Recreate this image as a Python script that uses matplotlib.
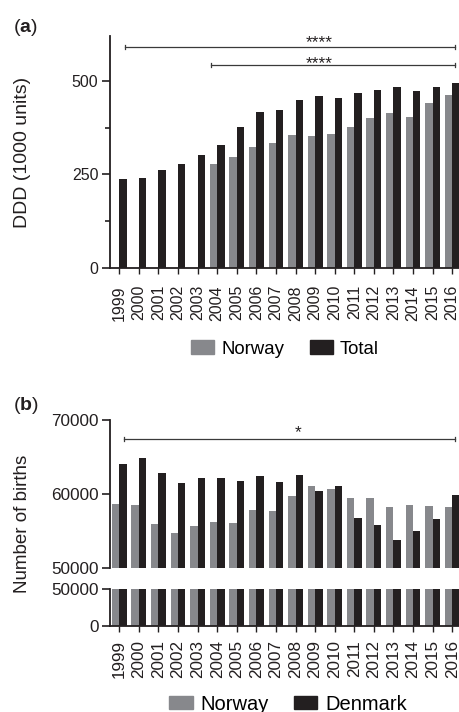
import numpy as np
import matplotlib
matplotlib.use("Agg")
import matplotlib.pyplot as plt
from matplotlib.patches import Patch

plt.rcParams['font.family'] = ['Liberation Sans', 'DejaVu Sans']
plt.rcParams['mathtext.fontset'] = 'custom'
plt.rcParams['mathtext.rm'] = 'Liberation Sans'
plt.rcParams['mathtext.bf'] = 'Liberation Sans:bold'

# --- data ---
years = [str(y) for y in range(1999, 2017)]
ddd_norway = [np.nan, np.nan, np.nan, np.nan, np.nan, 278, 297, 323, 334,
              356, 353, 357, 378, 402, 414, 403, 442, 462]
ddd_total = [238, 241, 263, 277, 301, 330, 377, 417, 421,
             449, 461, 455, 469, 477, 485, 473, 484, 495]
births_norway = [58640, 58550, 56030, 54730, 55710, 56200, 56070, 57820, 57780,
                 59800, 61100, 60740, 59530, 59530, 58320, 58500, 58370, 58270]
births_denmark = [64110, 64840, 62900, 61550, 62140, 62140, 61820, 62490, 61680,
                  62540, 60470, 61150, 56840, 55810, 53830, 55090, 56620, 59900]

GREY = '#87888c'
BLACK = '#231f20'
TXT = '#231f20'
W = 0.38
x = np.arange(len(years))
XLIM = (-0.475, 17.35)


def style_axis(ax, tick_fs):
    for s in ('top', 'right'):
        ax.spines[s].set_visible(False)
    for s in ('left', 'bottom'):
        ax.spines[s].set_linewidth(1.3)
        ax.spines[s].set_color(TXT)
    ax.tick_params(axis='y', which='major', length=5.8, width=1.2, colors=TXT,
                   labelsize=tick_fs, pad=2.5)
    ax.tick_params(axis='y', which='minor', length=3.6, width=1.2, colors=TXT)
    ax.tick_params(axis='x', length=4.3, width=1.0, colors=TXT)
    ax.set_xlim(*XLIM)


def bracket(ax, x0, x1, y, cap):
    ax.plot([x0, x1], [y, y], color='#3a3a3a', lw=0.9, clip_on=False)
    for xx in (x0, x1):
        ax.plot([xx, xx], [y - cap, y + cap], color='#3a3a3a', lw=0.9, clip_on=False)


fig = plt.figure(figsize=(4.59, 7.12), dpi=100)

# ---------- panel (a) ----------
ax1 = fig.add_axes([0.2397, 0.6236, 0.7603, 0.3258])
ax1.bar(x - W, ddd_norway, W, align='edge', color=GREY, label='Norway')
ax1.bar(x, ddd_total, W, align='edge', color=BLACK, label='Total')
ax1.set_ylim(0, 620)
ax1.set_yticks([0, 250, 500])
ax1.set_yticks([125, 375], minor=True)
ax1.set_xticks(x)
ax1.set_xticklabels(years, rotation=90)
style_axis(ax1, 11.5)
ax1.tick_params(axis='x', labelsize=11.5, pad=8)

fig.text(23 / 459, 1 - 152 / 712, 'DDD (1000 units)', rotation=90, fontsize=14,
         color=TXT, ha='center', va='center')

bracket(ax1, 0.31, 17.16, 591, 5)
bracket(ax1, 4.66, 17.16, 542, 5)
ax1.text(10.19, 590, '****', ha='center', va='baseline', fontsize=12.5, color=TXT)
ax1.text(10.19, 533, '****', ha='center', va='baseline', fontsize=12.5, color=TXT)

fig.text(13 / 459, 1 - 28 / 712, r'($\mathbf{a}$)', fontsize=14, color=TXT,
         ha='left', va='center')

fig.legend(handles=[Patch(color=GREY, label='Norway'), Patch(color=BLACK, label='Total')],
           loc='center', bbox_to_anchor=(0.621, 1 - 349 / 712), ncol=2, frameon=False,
           fontsize=13.4, handlelength=1.24, handleheight=0.7, handletextpad=0.38,
           columnspacing=1.35, borderpad=0)

# ---------- panel (b), broken axis ----------
ax2 = fig.add_axes([0.2397, 0.2018, 0.7603, 0.2083])
ax3 = fig.add_axes([0.2397, 0.1208, 0.7603, 0.0520])
for ax in (ax2, ax3):
    ax.bar(x - W, births_norway, W, align='edge', color=GREY)
    ax.bar(x, births_denmark, W, align='edge', color=BLACK)
    style_axis(ax, 12.3)

ax2.set_ylim(50000, 70000)
ax2.set_yticks([50000, 60000, 70000])
ax2.spines['bottom'].set_visible(False)
ax2.set_xticks([])

ax3.set_ylim(0, 50000)
ax3.set_yticks([0, 50000])
ax3.set_xticks(x)
ax3.set_xticklabels(years, rotation=90)
ax3.tick_params(axis='x', labelsize=12.3, pad=6)

bracket(ax2, 0.26, 17.16, 67440, 250)
ax2.text(9.12, 67750, '*', ha='center', va='baseline', fontsize=12.5, color=TXT)

fig.text(22.7 / 459, 1 - 524 / 712, 'Number of births', rotation=90, fontsize=13.5,
         color=TXT, ha='center', va='center')
fig.text(13 / 459, 1 - 405 / 712, r'($\mathbf{b}$)', fontsize=14, color=TXT,
         ha='left', va='center')

fig.legend(handles=[Patch(color=GREY, label='Norway'), Patch(color=BLACK, label='Denmark')],
           loc='center', bbox_to_anchor=(0.628, 1 - 704 / 712), ncol=2, frameon=False,
           fontsize=14.5, handlelength=1.16, handleheight=0.65, handletextpad=0.4,
           columnspacing=1.24, borderpad=0)

fig.savefig('out.png', dpi=100)
